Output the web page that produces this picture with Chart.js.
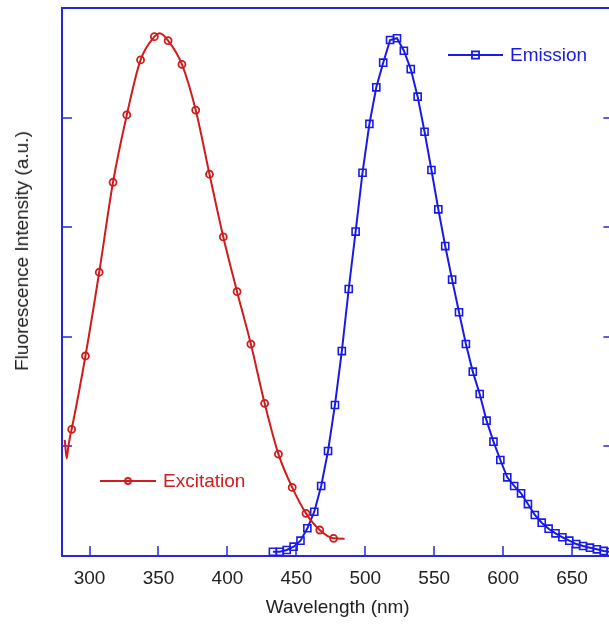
<!DOCTYPE html>
<html>
<head>
<meta charset="utf-8">
<script src="https://cdn.jsdelivr.net/npm/chart.js@4.4.1/dist/chart.umd.min.js"></script>
<style>
  html, body { margin: 0; padding: 0; background: #fff; overflow: hidden; }
  #wrap { position: relative; width: 620px; height: 624px; }
  #yTitle {
    position: absolute; left: 22px; top: 251px;
    transform: translate(-50%, -50%) rotate(-90deg);
    font: 19px "Liberation Sans", Arial, sans-serif; color: #222; white-space: nowrap;
  }
</style>
</head>
<body>
<div id="wrap">
  <canvas id="grafico" width="620" height="624"></canvas>
  <div id="yTitle">Fluorescence Intensity (a.u.)</div>
</div>
<script>
// Excitation spectrum (wavelength nm / intensity a.u.)
const EXC_WL = [282, 283.4, 284.5, 286, 287, 297, 307, 317, 327, 337, 347, 351, 357, 367, 377,
  387, 397, 407, 417, 427, 437, 447, 457, 467, 477, 485];
const EXC_INT = [1.06, 0.89, 0.99, 1.1, 1.156, 1.825, 2.589, 3.41, 4.024, 4.526, 4.738, 4.77, 4.702,
  4.486, 4.069, 3.483, 2.911, 2.412, 1.934, 1.393, 0.93, 0.626, 0.389, 0.237, 0.161, 0.158];
// wavelengths that carry a circle marker
const EXC_MARKED = [287, 297, 307, 317, 327, 337, 347, 357, 367, 377, 387, 397, 407, 417, 427,
  437, 447, 457, 467, 477];

// Emission spectrum
const EM_WL = [433, 438, 443, 448, 453, 458, 463, 468, 473, 478, 483, 488, 493, 498, 503, 508,
  513, 518, 523, 528, 533, 538, 543, 548, 553, 558, 563, 568, 573, 578, 583, 588, 593, 598, 603,
  608, 613, 618, 623, 628, 633, 638, 643, 648, 653, 658, 663, 668, 673, 678];
const EM_INT = [0.039, 0.039, 0.055, 0.085, 0.14, 0.253, 0.404, 0.639, 0.958, 1.378, 1.87, 2.436,
  2.96, 3.497, 3.942, 4.276, 4.501, 4.708, 4.724, 4.61, 4.443, 4.191, 3.871, 3.522, 3.163, 2.828,
  2.522, 2.224, 1.934, 1.682, 1.478, 1.235, 1.043, 0.876, 0.718, 0.639, 0.572, 0.474, 0.374, 0.304,
  0.249, 0.207, 0.171, 0.14, 0.109, 0.091, 0.076, 0.061, 0.046, 0.036];

const X_TICKS = [300, 350, 400, 450, 500, 550, 600, 650];
const Y_TICKS = [1, 2, 3, 4];

const VERMELHO = "#d01c1c";
const AZUL = "#1a1ae6";
const COR_EIXO = "#2626e0";
const FONTE = "'Liberation Sans', Arial, sans-serif";

// caixa do gráfico com ticks para dentro
const molduraPlugin = {
  id: "moldura",
  beforeDatasetsDraw(chart) {
    const { ctx, chartArea: a, scales } = chart;
    ctx.save();
    ctx.strokeStyle = COR_EIXO;
    ctx.lineWidth = 2;
    ctx.strokeRect(a.left, a.top, a.right - a.left, a.bottom - a.top);
    ctx.lineWidth = 1.5;
    ctx.beginPath();
    scales.x.ticks.forEach((t) => {
      const px = Math.round(scales.x.getPixelForValue(t.value));
      ctx.moveTo(px, a.bottom);
      ctx.lineTo(px, a.bottom - 10);
    });
    Y_TICKS.forEach((v) => {
      const py = Math.round(scales.y.getPixelForValue(v));
      ctx.moveTo(a.left, py);
      ctx.lineTo(a.left + 10, py);
      ctx.moveTo(a.right, py);
      ctx.lineTo(a.right - 10, py);
    });
    ctx.stroke();
    ctx.restore();
  },
};

// legendas soltas dentro do gráfico
function desenharItem(ctx, x0, x1, y, estilo, raio, cor, texto) {
  ctx.strokeStyle = cor;
  ctx.lineWidth = 1.8;
  ctx.beginPath();
  ctx.moveTo(x0, y);
  ctx.lineTo(x1, y);
  ctx.stroke();
  ctx.fillStyle = "rgba(0,0,0,0)";
  Chart.helpers.drawPoint(ctx, { pointStyle: estilo, radius: raio, borderWidth: 1.6, rotation: 0 }, (x0 + x1) / 2, y);
  ctx.fillStyle = cor;
  ctx.font = "19px " + FONTE;
  ctx.textBaseline = "middle";
  ctx.textAlign = "left";
  ctx.fillText(texto, x1 + 7, y + 1);
}

const legendaPlugin = {
  id: "legenda",
  afterDraw(chart) {
    const ctx = chart.ctx;
    ctx.save();
    desenharItem(ctx, 448, 503, 55, "rect", 5, AZUL, "Emission");
    desenharItem(ctx, 100, 156, 481, "circle", 3, VERMELHO, "Excitation");
    ctx.restore();
  },
};

const excitacao = EXC_WL.map((w, i) => ({ x: w, y: EXC_INT[i] }));
const emissao = EM_WL.map((w, i) => ({ x: w, y: EM_INT[i] }));

new Chart(document.getElementById("grafico").getContext("2d"), {
  type: "scatter",
  data: {
    datasets: [
      {
        label: "Excitation",
        data: excitacao,
        showLine: true,
        borderColor: VERMELHO,
        backgroundColor: "transparent",
        borderWidth: 2,
        cubicInterpolationMode: "monotone",
        pointStyle: "circle",
        pointRadius: (c) => (EXC_MARKED.includes(EXC_WL[c.dataIndex]) ? 3.5 : 0),
        pointBorderWidth: 1.8,
        pointBorderColor: VERMELHO,
        pointBackgroundColor: "transparent",
      },
      {
        label: "Emission",
        data: emissao,
        showLine: true,
        borderColor: AZUL,
        backgroundColor: "transparent",
        borderWidth: 2,
        tension: 0,
        pointStyle: "rect",
        pointRadius: 5,
        pointBorderWidth: 1.6,
        pointBorderColor: AZUL,
        pointBackgroundColor: "transparent",
      },
    ],
  },
  options: {
    responsive: false,
    animation: false,
    devicePixelRatio: 1,
    layout: { padding: { left: 62, top: 8, right: 3, bottom: 0 } },
    plugins: {
      legend: { display: false },
      tooltip: { enabled: false },
    },
    scales: {
      x: {
        type: "linear",
        min: 280,
        max: 680,
        afterBuildTicks: (s) => { s.ticks = X_TICKS.map((v) => ({ value: v })); },
        afterFit: (s) => { s.height = 68; },
        grid: { display: false, drawTicks: false },
        border: { display: false },
        ticks: { color: "#222", padding: 11, font: { family: FONTE, size: 19 } },
        title: {
          display: true,
          text: "Wavelength (nm)",
          color: "#222",
          font: { family: FONTE, size: 19 },
          padding: { top: 0, bottom: 5 },
        },
      },
      y: {
        display: false,
        min: 0,
        max: 5,
      },
    },
  },
  plugins: [molduraPlugin, legendaPlugin],
});
</script>
</body>
</html>
